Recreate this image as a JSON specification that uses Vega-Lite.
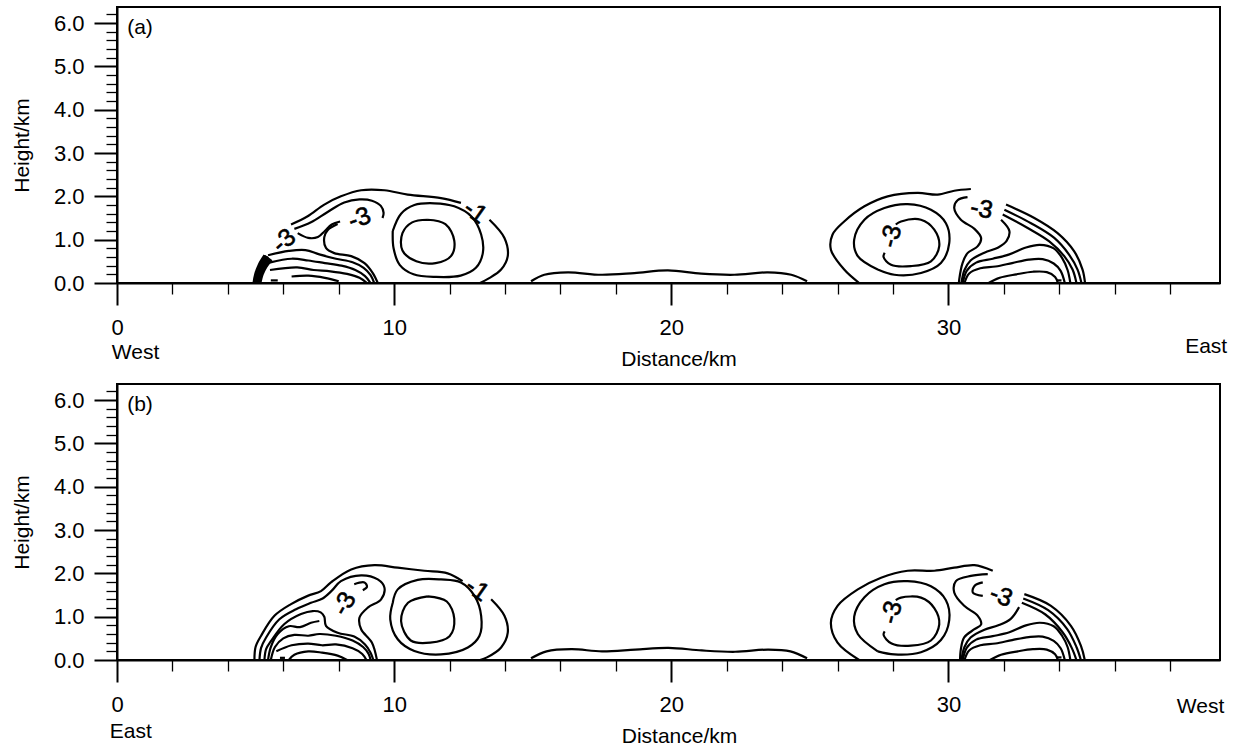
{
"$schema": "https://vega.github.io/schema/vega-lite/v6.json",
"background": "white",
"padding": {"left": 10, "top": 2, "right": 4, "bottom": 2},
"bounds": "flush",
"spacing": 101,
"config": {
  "font": "Liberation Sans",
  "view": {"stroke": "black", "strokeWidth": 2},
  "axis": {"domainColor": "black", "domainWidth": 2, "tickColor": "black", "labelColor": "black", "titleColor": "black", "titleFontWeight": "normal", "grid": false, "labelFont": "Liberation Sans", "titleFont": "Liberation Sans"}
},
"datasets": {
"contours": [
{"panel":"a","line":"a0","x":5.0,"y":0},{"panel":"a","line":"a0","x":5.07,"y":0.2},{"panel":"a","line":"a0","x":5.2,"y":0.42},{"panel":"a","line":"a0","x":5.4,"y":0.62},
{"panel":"a","line":"a1s1","x":4.96,"y":0},{"panel":"a","line":"a1s1","x":5.02,"y":0.2},{"panel":"a","line":"a1s1","x":5.15,"y":0.42},{"panel":"a","line":"a1s1","x":5.35,"y":0.63},
{"panel":"a","line":"a1s2","x":6.28,"y":1.35},{"panel":"a","line":"a1s2","x":6.88,"y":1.54},{"panel":"a","line":"a1s2","x":7.48,"y":1.81},{"panel":"a","line":"a1s2","x":8.08,"y":2.0},{"panel":"a","line":"a1s2","x":8.81,"y":2.14},{"panel":"a","line":"a1s2","x":9.65,"y":2.14},{"panel":"a","line":"a1s2","x":10.49,"y":2.04},{"panel":"a","line":"a1s2","x":11.69,"y":1.96},{"panel":"a","line":"a1s2","x":12.41,"y":1.85},
{"panel":"a","line":"a1s3","x":13.44,"y":1.46},{"panel":"a","line":"a1s3","x":13.98,"y":1.04},{"panel":"a","line":"a1s3","x":14.1,"y":0.62},{"panel":"a","line":"a1s3","x":13.86,"y":0.31},{"panel":"a","line":"a1s3","x":13.4,"y":0.1},{"panel":"a","line":"a1s3","x":13.1,"y":0},
{"panel":"a","line":"a2s1","x":5.05,"y":0},{"panel":"a","line":"a2s1","x":5.12,"y":0.2},{"panel":"a","line":"a2s1","x":5.25,"y":0.4},{"panel":"a","line":"a2s1","x":5.45,"y":0.6},
{"panel":"a","line":"a2s2","x":6.4,"y":1.25},{"panel":"a","line":"a2s2","x":7.0,"y":1.4},{"panel":"a","line":"a2s2","x":7.6,"y":1.64},{"panel":"a","line":"a2s2","x":8.2,"y":1.86},{"panel":"a","line":"a2s2","x":8.75,"y":1.93},{"panel":"a","line":"a2s2","x":9.2,"y":1.9},{"panel":"a","line":"a2s2","x":9.52,"y":1.78},{"panel":"a","line":"a2s2","x":9.62,"y":1.62},{"panel":"a","line":"a2s2","x":9.58,"y":1.5},
{"panel":"a","line":"a3s1","x":5.14,"y":0},{"panel":"a","line":"a3s1","x":5.22,"y":0.2},{"panel":"a","line":"a3s1","x":5.36,"y":0.38},{"panel":"a","line":"a3s1","x":5.55,"y":0.55},
{"panel":"a","line":"a3s2","x":6.52,"y":1.15},{"panel":"a","line":"a3s2","x":6.9,"y":1.04},{"panel":"a","line":"a3s2","x":7.25,"y":1.06},{"panel":"a","line":"a3s2","x":7.5,"y":1.2},{"panel":"a","line":"a3s2","x":7.75,"y":1.35},{"panel":"a","line":"a3s2","x":8.05,"y":1.42},
{"panel":"a","line":"a3s3","x":7.96,"y":1.36},{"panel":"a","line":"a3s3","x":7.6,"y":1.22},{"panel":"a","line":"a3s3","x":7.48,"y":1.06},{"panel":"a","line":"a3s3","x":7.54,"y":0.81},{"panel":"a","line":"a3s3","x":7.84,"y":0.69},{"panel":"a","line":"a3s3","x":8.45,"y":0.62},{"panel":"a","line":"a3s3","x":8.93,"y":0.46},{"panel":"a","line":"a3s3","x":9.23,"y":0.23},{"panel":"a","line":"a3s3","x":9.41,"y":0},
{"panel":"a","line":"a4","x":5.45,"y":0.64},{"panel":"a","line":"a4","x":6.2,"y":0.74},{"panel":"a","line":"a4","x":6.8,"y":0.76},{"panel":"a","line":"a4","x":7.3,"y":0.66},{"panel":"a","line":"a4","x":7.9,"y":0.56},{"panel":"a","line":"a4","x":8.5,"y":0.48},{"panel":"a","line":"a4","x":8.9,"y":0.35},{"panel":"a","line":"a4","x":9.15,"y":0.18},{"panel":"a","line":"a4","x":9.28,"y":0},
{"panel":"a","line":"a5","x":5.5,"y":0.47},{"panel":"a","line":"a5","x":6.3,"y":0.56},{"panel":"a","line":"a5","x":6.9,"y":0.52},{"panel":"a","line":"a5","x":7.5,"y":0.46},{"panel":"a","line":"a5","x":8.1,"y":0.4},{"panel":"a","line":"a5","x":8.6,"y":0.3},{"panel":"a","line":"a5","x":8.95,"y":0.16},{"panel":"a","line":"a5","x":9.15,"y":0},
{"panel":"a","line":"a6","x":5.52,"y":0.3},{"panel":"a","line":"a6","x":6.5,"y":0.36},{"panel":"a","line":"a6","x":7.1,"y":0.3},{"panel":"a","line":"a6","x":7.7,"y":0.27},{"panel":"a","line":"a6","x":8.3,"y":0.21},{"panel":"a","line":"a6","x":8.75,"y":0.12},{"panel":"a","line":"a6","x":9.02,"y":0},
{"panel":"a","line":"a7","x":6.3,"y":0.15},{"panel":"a","line":"a7","x":6.9,"y":0.17},{"panel":"a","line":"a7","x":7.5,"y":0.12},{"panel":"a","line":"a7","x":8.0,"y":0.04},
{"panel":"a","line":"a8","x":5.55,"y":0.06},{"panel":"a","line":"a8","x":5.8,"y":0.06},
{"panel":"a","line":"a9","x":9.95,"y":1.2},{"panel":"a","line":"a9","x":10.25,"y":1.6},{"panel":"a","line":"a9","x":10.73,"y":1.8},{"panel":"a","line":"a9","x":11.45,"y":1.84},{"panel":"a","line":"a9","x":12.17,"y":1.77},{"panel":"a","line":"a9","x":12.78,"y":1.54},{"panel":"a","line":"a9","x":13.14,"y":1.12},{"panel":"a","line":"a9","x":13.2,"y":0.69},{"panel":"a","line":"a9","x":12.95,"y":0.35},{"panel":"a","line":"a9","x":12.4,"y":0.17},{"panel":"a","line":"a9","x":11.5,"y":0.14},{"panel":"a","line":"a9","x":10.7,"y":0.2},{"panel":"a","line":"a9","x":10.2,"y":0.42},{"panel":"a","line":"a9","x":9.98,"y":0.8},{"panel":"a","line":"a9","x":9.95,"y":1.2},
{"panel":"a","line":"a10","x":11.2,"y":1.46},{"panel":"a","line":"a10","x":11.85,"y":1.36},{"panel":"a","line":"a10","x":12.17,"y":0.98},{"panel":"a","line":"a10","x":12.05,"y":0.62},{"panel":"a","line":"a10","x":11.5,"y":0.46},{"panel":"a","line":"a10","x":10.8,"y":0.5},{"panel":"a","line":"a10","x":10.3,"y":0.75},{"panel":"a","line":"a10","x":10.3,"y":1.15},{"panel":"a","line":"a10","x":10.65,"y":1.4},{"panel":"a","line":"a10","x":11.2,"y":1.46},
{"panel":"a","line":"a11","x":14.94,"y":0.04},{"panel":"a","line":"a11","x":15.42,"y":0.19},{"panel":"a","line":"a11","x":16.27,"y":0.245},{"panel":"a","line":"a11","x":17.47,"y":0.19},{"panel":"a","line":"a11","x":18.67,"y":0.23},{"panel":"a","line":"a11","x":19.88,"y":0.29},{"panel":"a","line":"a11","x":21.08,"y":0.215},{"panel":"a","line":"a11","x":22.28,"y":0.19},{"panel":"a","line":"a11","x":23.48,"y":0.245},{"panel":"a","line":"a11","x":24.33,"y":0.19},{"panel":"a","line":"a11","x":24.9,"y":0.04},
{"panel":"a","line":"a12","x":26.78,"y":0},{"panel":"a","line":"a12","x":26.24,"y":0.31},{"panel":"a","line":"a12","x":25.76,"y":0.77},{"panel":"a","line":"a12","x":25.82,"y":1.12},{"panel":"a","line":"a12","x":26.24,"y":1.42},{"panel":"a","line":"a12","x":26.97,"y":1.77},{"panel":"a","line":"a12","x":27.81,"y":2.0},{"panel":"a","line":"a12","x":28.89,"y":2.08},{"panel":"a","line":"a12","x":29.61,"y":2.04},{"panel":"a","line":"a12","x":30.21,"y":2.13},{"panel":"a","line":"a12","x":30.81,"y":2.17},
{"panel":"a","line":"a13","x":27.45,"y":0.31},{"panel":"a","line":"a13","x":26.73,"y":0.62},{"panel":"a","line":"a13","x":26.6,"y":1.0},{"panel":"a","line":"a13","x":26.97,"y":1.46},{"panel":"a","line":"a13","x":27.69,"y":1.73},{"panel":"a","line":"a13","x":28.53,"y":1.82},{"panel":"a","line":"a13","x":29.37,"y":1.69},{"panel":"a","line":"a13","x":29.91,"y":1.38},{"panel":"a","line":"a13","x":30.03,"y":0.92},{"panel":"a","line":"a13","x":29.73,"y":0.46},{"panel":"a","line":"a13","x":29.01,"y":0.23},{"panel":"a","line":"a13","x":28.05,"y":0.19},{"panel":"a","line":"a13","x":27.45,"y":0.31},
{"panel":"a","line":"a14","x":27.7,"y":0.7},{"panel":"a","line":"a14","x":27.66,"y":0.6},{"panel":"a","line":"a14","x":27.93,"y":0.42},{"panel":"a","line":"a14","x":28.65,"y":0.39},{"panel":"a","line":"a14","x":29.37,"y":0.5},{"panel":"a","line":"a14","x":29.67,"y":0.85},{"panel":"a","line":"a14","x":29.49,"y":1.23},{"panel":"a","line":"a14","x":29.01,"y":1.46},{"panel":"a","line":"a14","x":28.29,"y":1.42},{"panel":"a","line":"a14","x":28.1,"y":1.35},
{"panel":"a","line":"a15","x":30.69,"y":1.98},{"panel":"a","line":"a15","x":30.33,"y":1.91},{"panel":"a","line":"a15","x":30.21,"y":1.73},{"panel":"a","line":"a15","x":30.45,"y":1.46},{"panel":"a","line":"a15","x":30.94,"y":1.25},{"panel":"a","line":"a15","x":31.18,"y":1.04},{"panel":"a","line":"a15","x":31.06,"y":0.85},{"panel":"a","line":"a15","x":30.69,"y":0.69},{"panel":"a","line":"a15","x":30.51,"y":0.46},{"panel":"a","line":"a15","x":30.39,"y":0.08},{"panel":"a","line":"a15","x":30.38,"y":0},
{"panel":"a","line":"a17","x":32.08,"y":1.81},{"panel":"a","line":"a17","x":33.1,"y":1.5},{"panel":"a","line":"a17","x":33.94,"y":1.15},{"panel":"a","line":"a17","x":34.54,"y":0.73},{"panel":"a","line":"a17","x":34.84,"y":0.31},{"panel":"a","line":"a17","x":34.93,"y":0},
{"panel":"a","line":"a18","x":32.02,"y":1.69},{"panel":"a","line":"a18","x":32.98,"y":1.38},{"panel":"a","line":"a18","x":33.82,"y":1.04},{"panel":"a","line":"a18","x":34.36,"y":0.65},{"panel":"a","line":"a18","x":34.66,"y":0.31},{"panel":"a","line":"a18","x":34.8,"y":0},
{"panel":"a","line":"a19","x":31.96,"y":1.58},{"panel":"a","line":"a19","x":32.86,"y":1.27},{"panel":"a","line":"a19","x":33.64,"y":0.96},{"panel":"a","line":"a19","x":34.18,"y":0.62},{"panel":"a","line":"a19","x":34.48,"y":0.31},{"panel":"a","line":"a19","x":34.62,"y":0},
{"panel":"a","line":"a20","x":30.47,"y":0},{"panel":"a","line":"a20","x":30.58,"y":0.3},{"panel":"a","line":"a20","x":30.8,"y":0.52},{"panel":"a","line":"a20","x":31.3,"y":0.7},{"panel":"a","line":"a20","x":31.8,"y":0.82},{"panel":"a","line":"a20","x":32.1,"y":0.97},{"panel":"a","line":"a20","x":32.2,"y":1.2},{"panel":"a","line":"a20","x":31.9,"y":1.46},
{"panel":"a","line":"a21","x":30.52,"y":0},{"panel":"a","line":"a21","x":30.66,"y":0.28},{"panel":"a","line":"a21","x":31.0,"y":0.47},{"panel":"a","line":"a21","x":31.6,"y":0.56},{"panel":"a","line":"a21","x":32.2,"y":0.66},{"panel":"a","line":"a21","x":32.8,"y":0.82},{"panel":"a","line":"a21","x":33.3,"y":0.88},{"panel":"a","line":"a21","x":33.8,"y":0.8},{"panel":"a","line":"a21","x":34.1,"y":0.58},{"panel":"a","line":"a21","x":34.3,"y":0.3},{"panel":"a","line":"a21","x":34.4,"y":0},
{"panel":"a","line":"a22","x":30.58,"y":0},{"panel":"a","line":"a22","x":30.75,"y":0.22},{"panel":"a","line":"a22","x":31.15,"y":0.34},{"panel":"a","line":"a22","x":31.7,"y":0.38},{"panel":"a","line":"a22","x":32.3,"y":0.46},{"panel":"a","line":"a22","x":32.9,"y":0.54},{"panel":"a","line":"a22","x":33.4,"y":0.55},{"panel":"a","line":"a22","x":33.8,"y":0.45},{"panel":"a","line":"a22","x":34.05,"y":0.28},{"panel":"a","line":"a22","x":34.2,"y":0},
{"panel":"a","line":"a23","x":31.45,"y":0},{"panel":"a","line":"a23","x":31.85,"y":0.12},{"panel":"a","line":"a23","x":32.45,"y":0.2},{"panel":"a","line":"a23","x":33.05,"y":0.26},{"panel":"a","line":"a23","x":33.55,"y":0.25},{"panel":"a","line":"a23","x":33.85,"y":0.14},{"panel":"a","line":"a23","x":33.95,"y":0},
{"panel":"a","line":"a24","x":33.92,"y":0.06},{"panel":"a","line":"a24","x":34.08,"y":0.06},

{"panel":"b","line":"b1s1","x":4.96,"y":0},{"panel":"b","line":"b1s1","x":5.0,"y":0.3},{"panel":"b","line":"b1s1","x":5.2,"y":0.56},{"panel":"b","line":"b1s1","x":5.68,"y":1.02},{"panel":"b","line":"b1s1","x":6.28,"y":1.29},{"panel":"b","line":"b1s1","x":6.88,"y":1.48},{"panel":"b","line":"b1s1","x":7.36,"y":1.59},{"panel":"b","line":"b1s1","x":7.72,"y":1.79},{"panel":"b","line":"b1s1","x":8.45,"y":2.09},{"panel":"b","line":"b1s1","x":9.29,"y":2.19},{"panel":"b","line":"b1s1","x":10.13,"y":2.13},{"panel":"b","line":"b1s1","x":11.09,"y":2.06},{"panel":"b","line":"b1s1","x":11.93,"y":2.0},{"panel":"b","line":"b1s1","x":12.47,"y":1.82},
{"panel":"b","line":"b1s2","x":13.5,"y":1.4},{"panel":"b","line":"b1s2","x":13.98,"y":1.02},{"panel":"b","line":"b1s2","x":14.1,"y":0.63},{"panel":"b","line":"b1s2","x":13.86,"y":0.29},{"panel":"b","line":"b1s2","x":13.35,"y":0.06},{"panel":"b","line":"b1s2","x":13.1,"y":0},
{"panel":"b","line":"b2","x":5.14,"y":0},{"panel":"b","line":"b2","x":5.2,"y":0.28},{"panel":"b","line":"b2","x":5.38,"y":0.52},{"panel":"b","line":"b2","x":5.86,"y":0.94},{"panel":"b","line":"b2","x":6.46,"y":1.17},{"panel":"b","line":"b2","x":7.0,"y":1.32},{"panel":"b","line":"b2","x":7.42,"y":1.42},{"panel":"b","line":"b2","x":7.75,"y":1.6},{"panel":"b","line":"b2","x":8.08,"y":1.82},{"panel":"b","line":"b2","x":8.81,"y":1.955},{"panel":"b","line":"b2","x":9.41,"y":1.86},{"panel":"b","line":"b2","x":9.65,"y":1.67},{"panel":"b","line":"b2","x":9.53,"y":1.4},{"panel":"b","line":"b2","x":9.05,"y":1.21},{"panel":"b","line":"b2","x":8.75,"y":0.98},{"panel":"b","line":"b2","x":8.81,"y":0.71},{"panel":"b","line":"b2","x":9.2,"y":0.4},{"panel":"b","line":"b2","x":9.38,"y":0},
{"panel":"b","line":"b3","x":5.32,"y":0},{"panel":"b","line":"b3","x":5.38,"y":0.25},{"panel":"b","line":"b3","x":5.56,"y":0.44},{"panel":"b","line":"b3","x":6.04,"y":0.83},{"panel":"b","line":"b3","x":6.64,"y":1.06},{"panel":"b","line":"b3","x":7.06,"y":1.13},{"panel":"b","line":"b3","x":7.35,"y":1.1},{"panel":"b","line":"b3","x":7.48,"y":1.0},{"panel":"b","line":"b3","x":7.54,"y":0.79},{"panel":"b","line":"b3","x":7.96,"y":0.63},{"panel":"b","line":"b3","x":8.56,"y":0.54},{"panel":"b","line":"b3","x":8.95,"y":0.36},{"panel":"b","line":"b3","x":9.15,"y":0.17},{"panel":"b","line":"b3","x":9.25,"y":0},
{"panel":"b","line":"bh","x":8.56,"y":1.75},{"panel":"b","line":"bh","x":8.93,"y":1.79},{"panel":"b","line":"bh","x":9.02,"y":1.69},{"panel":"b","line":"bh","x":8.87,"y":1.61},
{"panel":"b","line":"b4","x":5.45,"y":0},{"panel":"b","line":"b4","x":5.55,"y":0.3},{"panel":"b","line":"b4","x":5.8,"y":0.6},{"panel":"b","line":"b4","x":6.2,"y":0.78},{"panel":"b","line":"b4","x":6.6,"y":0.76},{"panel":"b","line":"b4","x":7.0,"y":0.86},{"panel":"b","line":"b4","x":7.3,"y":0.9},
{"panel":"b","line":"b5","x":5.55,"y":0},{"panel":"b","line":"b5","x":5.7,"y":0.3},{"panel":"b","line":"b5","x":6.0,"y":0.5},{"panel":"b","line":"b5","x":6.4,"y":0.58},{"panel":"b","line":"b5","x":6.9,"y":0.56},{"panel":"b","line":"b5","x":7.3,"y":0.6},{"panel":"b","line":"b5","x":7.9,"y":0.56},{"panel":"b","line":"b5","x":8.5,"y":0.45},{"panel":"b","line":"b5","x":8.88,"y":0.3},{"panel":"b","line":"b5","x":9.08,"y":0.14},{"panel":"b","line":"b5","x":9.15,"y":0},
{"panel":"b","line":"b6","x":5.75,"y":0.2},{"panel":"b","line":"b6","x":6.3,"y":0.34},{"panel":"b","line":"b6","x":6.9,"y":0.38},{"panel":"b","line":"b6","x":7.4,"y":0.34},{"panel":"b","line":"b6","x":7.9,"y":0.36},{"panel":"b","line":"b6","x":8.5,"y":0.27},{"panel":"b","line":"b6","x":8.85,"y":0.14},{"panel":"b","line":"b6","x":9.0,"y":0},
{"panel":"b","line":"b7","x":6.2,"y":0},{"panel":"b","line":"b7","x":6.4,"y":0.12},{"panel":"b","line":"b7","x":6.9,"y":0.2},{"panel":"b","line":"b7","x":7.4,"y":0.17},{"panel":"b","line":"b7","x":7.96,"y":0.1},{"panel":"b","line":"b7","x":8.3,"y":0},
{"panel":"b","line":"b8","x":5.88,"y":0.05},{"panel":"b","line":"b8","x":6.06,"y":0.05},
{"panel":"b","line":"b9","x":9.95,"y":1.32},{"panel":"b","line":"b9","x":10.13,"y":1.63},{"panel":"b","line":"b9","x":10.85,"y":1.85},{"panel":"b","line":"b9","x":11.69,"y":1.86},{"panel":"b","line":"b9","x":12.41,"y":1.79},{"panel":"b","line":"b9","x":12.9,"y":1.48},{"panel":"b","line":"b9","x":13.14,"y":1.02},{"panel":"b","line":"b9","x":13.08,"y":0.56},{"panel":"b","line":"b9","x":12.66,"y":0.29},{"panel":"b","line":"b9","x":11.69,"y":0.13},{"panel":"b","line":"b9","x":10.73,"y":0.21},{"panel":"b","line":"b9","x":10.13,"y":0.48},{"panel":"b","line":"b9","x":9.86,"y":0.94},{"panel":"b","line":"b9","x":9.95,"y":1.32},
{"panel":"b","line":"b10","x":11.21,"y":1.47},{"panel":"b","line":"b10","x":11.9,"y":1.35},{"panel":"b","line":"b10","x":12.17,"y":0.95},{"panel":"b","line":"b10","x":12.0,"y":0.55},{"panel":"b","line":"b10","x":11.3,"y":0.4},{"panel":"b","line":"b10","x":10.6,"y":0.45},{"panel":"b","line":"b10","x":10.25,"y":0.9},{"panel":"b","line":"b10","x":10.5,"y":1.32},{"panel":"b","line":"b10","x":11.21,"y":1.47},
{"panel":"b","line":"b11","x":14.94,"y":0.04},{"panel":"b","line":"b11","x":15.5,"y":0.2},{"panel":"b","line":"b11","x":16.4,"y":0.25},{"panel":"b","line":"b11","x":17.5,"y":0.2},{"panel":"b","line":"b11","x":18.7,"y":0.24},{"panel":"b","line":"b11","x":19.9,"y":0.28},{"panel":"b","line":"b11","x":21.1,"y":0.22},{"panel":"b","line":"b11","x":22.3,"y":0.19},{"panel":"b","line":"b11","x":23.5,"y":0.24},{"panel":"b","line":"b11","x":24.3,"y":0.2},{"panel":"b","line":"b11","x":24.9,"y":0.04},
{"panel":"b","line":"b12","x":26.78,"y":0},{"panel":"b","line":"b12","x":26.0,"y":0.4},{"panel":"b","line":"b12","x":25.76,"y":0.86},{"panel":"b","line":"b12","x":26.0,"y":1.25},{"panel":"b","line":"b12","x":26.73,"y":1.63},{"panel":"b","line":"b12","x":27.57,"y":1.9},{"panel":"b","line":"b12","x":28.53,"y":2.06},{"panel":"b","line":"b12","x":29.49,"y":2.06},{"panel":"b","line":"b12","x":30.21,"y":2.13},{"panel":"b","line":"b12","x":30.94,"y":2.19},{"panel":"b","line":"b12","x":31.6,"y":2.06},
{"panel":"b","line":"b13","x":27.45,"y":0.2},{"panel":"b","line":"b13","x":26.73,"y":0.6},{"panel":"b","line":"b13","x":26.6,"y":1.0},{"panel":"b","line":"b13","x":26.97,"y":1.45},{"panel":"b","line":"b13","x":27.69,"y":1.75},{"panel":"b","line":"b13","x":28.53,"y":1.82},{"panel":"b","line":"b13","x":29.37,"y":1.7},{"panel":"b","line":"b13","x":29.91,"y":1.38},{"panel":"b","line":"b13","x":30.03,"y":0.92},{"panel":"b","line":"b13","x":29.73,"y":0.46},{"panel":"b","line":"b13","x":29.01,"y":0.18},{"panel":"b","line":"b13","x":28.05,"y":0.13},{"panel":"b","line":"b13","x":27.45,"y":0.2},
{"panel":"b","line":"b14","x":27.7,"y":0.66},{"panel":"b","line":"b14","x":27.66,"y":0.58},{"panel":"b","line":"b14","x":27.95,"y":0.38},{"panel":"b","line":"b14","x":28.65,"y":0.33},{"panel":"b","line":"b14","x":29.37,"y":0.45},{"panel":"b","line":"b14","x":29.67,"y":0.82},{"panel":"b","line":"b14","x":29.49,"y":1.2},{"panel":"b","line":"b14","x":29.01,"y":1.44},{"panel":"b","line":"b14","x":28.29,"y":1.44},{"panel":"b","line":"b14","x":28.1,"y":1.38},
{"panel":"b","line":"b15","x":31.42,"y":1.98},{"panel":"b","line":"b15","x":30.81,"y":1.94},{"panel":"b","line":"b15","x":30.27,"y":1.82},{"panel":"b","line":"b15","x":30.21,"y":1.56},{"panel":"b","line":"b15","x":30.57,"y":1.25},{"panel":"b","line":"b15","x":31.06,"y":1.02},{"panel":"b","line":"b15","x":31.18,"y":0.82},{"panel":"b","line":"b15","x":30.94,"y":0.71},{"panel":"b","line":"b15","x":30.57,"y":0.52},{"panel":"b","line":"b15","x":30.45,"y":0.25},{"panel":"b","line":"b15","x":30.42,"y":0},
{"panel":"b","line":"b16","x":31.24,"y":1.79},{"panel":"b","line":"b16","x":30.94,"y":1.71},{"panel":"b","line":"b16","x":30.88,"y":1.56},{"panel":"b","line":"b16","x":31.24,"y":1.48},
{"panel":"b","line":"b17","x":32.74,"y":1.52},{"panel":"b","line":"b17","x":33.7,"y":1.25},{"panel":"b","line":"b17","x":34.42,"y":0.79},{"panel":"b","line":"b17","x":34.78,"y":0.33},{"panel":"b","line":"b17","x":34.92,"y":0},
{"panel":"b","line":"b18","x":32.7,"y":1.42},{"panel":"b","line":"b18","x":33.6,"y":1.15},{"panel":"b","line":"b18","x":34.28,"y":0.72},{"panel":"b","line":"b18","x":34.62,"y":0.3},{"panel":"b","line":"b18","x":34.78,"y":0},
{"panel":"b","line":"b19","x":32.65,"y":1.32},{"panel":"b","line":"b19","x":33.5,"y":1.05},{"panel":"b","line":"b19","x":34.12,"y":0.64},{"panel":"b","line":"b19","x":34.45,"y":0.28},{"panel":"b","line":"b19","x":34.62,"y":0},
{"panel":"b","line":"b20","x":30.47,"y":0},{"panel":"b","line":"b20","x":30.58,"y":0.3},{"panel":"b","line":"b20","x":30.8,"y":0.52},{"panel":"b","line":"b20","x":31.3,"y":0.7},{"panel":"b","line":"b20","x":31.8,"y":0.8},{"panel":"b","line":"b20","x":32.25,"y":0.95},{"panel":"b","line":"b20","x":32.55,"y":1.22},
{"panel":"b","line":"b21","x":30.52,"y":0},{"panel":"b","line":"b21","x":30.66,"y":0.28},{"panel":"b","line":"b21","x":31.0,"y":0.47},{"panel":"b","line":"b21","x":31.6,"y":0.55},{"panel":"b","line":"b21","x":32.2,"y":0.64},{"panel":"b","line":"b21","x":32.8,"y":0.8},{"panel":"b","line":"b21","x":33.3,"y":0.86},{"panel":"b","line":"b21","x":33.8,"y":0.78},{"panel":"b","line":"b21","x":34.1,"y":0.56},{"panel":"b","line":"b21","x":34.3,"y":0.3},{"panel":"b","line":"b21","x":34.4,"y":0},
{"panel":"b","line":"b22","x":30.58,"y":0},{"panel":"b","line":"b22","x":30.75,"y":0.22},{"panel":"b","line":"b22","x":31.15,"y":0.34},{"panel":"b","line":"b22","x":31.7,"y":0.38},{"panel":"b","line":"b22","x":32.3,"y":0.46},{"panel":"b","line":"b22","x":32.9,"y":0.53},{"panel":"b","line":"b22","x":33.4,"y":0.54},{"panel":"b","line":"b22","x":33.8,"y":0.44},{"panel":"b","line":"b22","x":34.05,"y":0.27},{"panel":"b","line":"b22","x":34.2,"y":0},
{"panel":"b","line":"b23","x":31.5,"y":0},{"panel":"b","line":"b23","x":31.9,"y":0.12},{"panel":"b","line":"b23","x":32.5,"y":0.2},{"panel":"b","line":"b23","x":33.05,"y":0.25},{"panel":"b","line":"b23","x":33.55,"y":0.24},{"panel":"b","line":"b23","x":33.85,"y":0.13},{"panel":"b","line":"b23","x":33.95,"y":0},
{"panel":"b","line":"b24","x":33.92,"y":0.06},{"panel":"b","line":"b24","x":34.08,"y":0.06}
],
"labels": [
{"panel":"a","text":"-3","x":6.02,"y":0.98,"tilt":"rising"},
{"panel":"a","text":"-3","x":8.75,"y":1.5,"tilt":"slight"},
{"panel":"a","text":"-1","x":12.93,"y":1.65,"tilt":"falling"},
{"panel":"a","text":"-3","x":27.93,"y":1.08,"tilt":"vertical"},
{"panel":"a","text":"-3","x":31.2,"y":1.71,"tilt":"level"},
{"panel":"b","text":"-3","x":8.2,"y":1.3,"tilt":"steep"},
{"panel":"b","text":"-1","x":13.0,"y":1.63,"tilt":"falling"},
{"panel":"b","text":"-3","x":27.95,"y":1.1,"tilt":"vertical"},
{"panel":"b","text":"-3","x":31.9,"y":1.48,"tilt":"tilted"}
],
"notes": [
{"panel":"a","text":"(a)","x":0.83,"y":5.89},
{"panel":"a","text":"West","x":0.67,"y":-1.615},
{"panel":"a","text":"East","x":39.3,"y":-1.48},
{"panel":"b","text":"(b)","x":0.83,"y":5.89},
{"panel":"b","text":"East","x":0.5,"y":-1.66},
{"panel":"b","text":"West","x":39.1,"y":-1.09}
]
},
"vconcat": [
{
 "width": 1103, "height": 276,
 "encoding": {
  "x": {"field": "x", "type": "quantitative", "scale": {"domain": [0, 39.8], "nice": false, "zero": false},
   "axis": {"title": "Distance/km", "titleFontSize": 21, "titlePadding": 10, "titleX": 561.5,
    "values": [0,2,4,6,8,10,12,14,16,18,20,22,24,26,28,30,32,34,36,38],
    "labelExpr": "datum.value % 10 === 0 ? datum.label : ''", "format": "d",
    "labelFontSize": 22, "labelPadding": 12, "labelFlush": false, "labelOverlap": false,
    "tickSize": {"condition": {"test": "datum.value % 10 === 0", "value": 22}, "value": 11},
    "tickWidth": {"condition": {"test": "datum.value % 10 === 0", "value": 2}, "value": 1.3}}},
  "y": {"field": "y", "type": "quantitative", "scale": {"domain": [0, 6.37], "nice": false, "zero": false},
   "axis": {"title": "Height/km", "titleFontSize": 21, "titlePadding": 21,
    "values": [0,0.2,0.4,0.6,0.8,1,1.2,1.4,1.6,1.8,2,2.2,2.4,2.6,2.8,3,3.2,3.4,3.6,3.8,4,4.2,4.4,4.6,4.8,5,5.2,5.4,5.6,5.8,6,6.2],
    "labelExpr": "abs(datum.value - round(datum.value)) < 0.001 ? format(datum.value, '.1f') : ''",
    "labelFontSize": 22, "labelPadding": 10, "labelFlush": false, "labelOverlap": false,
    "tickSize": {"condition": {"test": "abs(datum.value - round(datum.value)) < 0.001", "value": 23}, "value": 11},
    "tickWidth": {"condition": {"test": "abs(datum.value - round(datum.value)) < 0.001", "value": 2}, "value": 1.3}}}
 },
 "layer": [
  {"data": {"name": "contours"}, "transform": [{"filter": "datum.panel === 'a'"}],
   "mark": {"type": "line", "color": "black", "strokeWidth": 2.2, "strokeJoin": "round", "interpolate": "catmull-rom", "clip": true},
   "encoding": {"detail": {"field": "line"}, "order": {"value": null}}},
  {"data": {"name": "contours"}, "transform": [{"filter": "datum.panel === 'a' && indexof(['a0','a1s1','a2s1','a3s1'], datum.line) >= 0"}],
   "mark": {"type": "line", "color": "black", "strokeWidth": 4, "strokeJoin": "round", "interpolate": "catmull-rom", "clip": true},
   "encoding": {"detail": {"field": "line"}, "order": {"value": null}}},
  {"data": {"name": "labels"}, "transform": [{"filter": "datum.panel === 'a' && datum.tilt === 'rising'"}],
   "mark": {"type": "text", "font": "Liberation Sans", "fontSize": 25, "color": "black", "stroke": "black", "strokeWidth": 0.6, "align": "center", "baseline": "middle", "angle": 320},
   "encoding": {"text": {"field": "text"}}},
  {"data": {"name": "labels"}, "transform": [{"filter": "datum.panel === 'a' && datum.tilt === 'slight'"}],
   "mark": {"type": "text", "font": "Liberation Sans", "fontSize": 25, "color": "black", "stroke": "black", "strokeWidth": 0.6, "align": "center", "baseline": "middle", "angle": 340},
   "encoding": {"text": {"field": "text"}}},
  {"data": {"name": "labels"}, "transform": [{"filter": "datum.panel === 'a' && datum.tilt === 'falling'"}],
   "mark": {"type": "text", "font": "Liberation Sans", "fontSize": 25, "color": "black", "stroke": "black", "strokeWidth": 0.6, "align": "center", "baseline": "middle", "angle": 35},
   "encoding": {"text": {"field": "text"}}},
  {"data": {"name": "labels"}, "transform": [{"filter": "datum.panel === 'a' && datum.tilt === 'vertical'"}],
   "mark": {"type": "text", "font": "Liberation Sans", "fontSize": 25, "color": "black", "stroke": "black", "strokeWidth": 0.6, "align": "center", "baseline": "middle", "angle": 285},
   "encoding": {"text": {"field": "text"}}},
  {"data": {"name": "labels"}, "transform": [{"filter": "datum.panel === 'a' && datum.tilt === 'level'"}],
   "mark": {"type": "text", "font": "Liberation Sans", "fontSize": 25, "color": "black", "stroke": "black", "strokeWidth": 0.6, "align": "center", "baseline": "middle", "angle": 10},
   "encoding": {"text": {"field": "text"}}},
  {"data": {"name": "notes"}, "transform": [{"filter": "datum.panel === 'a'"}],
   "mark": {"type": "text", "font": "Liberation Sans", "fontSize": 21, "color": "black", "align": "center", "baseline": "middle"},
   "encoding": {"text": {"field": "text"}}}
 ]
},
{
 "width": 1103, "height": 276,
 "encoding": {
  "x": {"field": "x", "type": "quantitative", "scale": {"domain": [0, 39.8], "nice": false, "zero": false},
   "axis": {"title": "Distance/km", "titleFontSize": 21, "titlePadding": 10, "titleX": 562,
    "values": [0,2,4,6,8,10,12,14,16,18,20,22,24,26,28,30,32,34,36,38],
    "labelExpr": "datum.value % 10 === 0 ? datum.label : ''", "format": "d",
    "labelFontSize": 22, "labelPadding": 12, "labelFlush": false, "labelOverlap": false,
    "tickSize": {"condition": {"test": "datum.value % 10 === 0", "value": 22}, "value": 11},
    "tickWidth": {"condition": {"test": "datum.value % 10 === 0", "value": 2}, "value": 1.3}}},
  "y": {"field": "y", "type": "quantitative", "scale": {"domain": [0, 6.37], "nice": false, "zero": false},
   "axis": {"title": "Height/km", "titleFontSize": 21, "titlePadding": 21,
    "values": [0,0.2,0.4,0.6,0.8,1,1.2,1.4,1.6,1.8,2,2.2,2.4,2.6,2.8,3,3.2,3.4,3.6,3.8,4,4.2,4.4,4.6,4.8,5,5.2,5.4,5.6,5.8,6,6.2],
    "labelExpr": "abs(datum.value - round(datum.value)) < 0.001 ? format(datum.value, '.1f') : ''",
    "labelFontSize": 22, "labelPadding": 10, "labelFlush": false, "labelOverlap": false,
    "tickSize": {"condition": {"test": "abs(datum.value - round(datum.value)) < 0.001", "value": 23}, "value": 11},
    "tickWidth": {"condition": {"test": "abs(datum.value - round(datum.value)) < 0.001", "value": 2}, "value": 1.3}}}
 },
 "layer": [
  {"data": {"name": "contours"}, "transform": [{"filter": "datum.panel === 'b'"}],
   "mark": {"type": "line", "color": "black", "strokeWidth": 2.2, "strokeJoin": "round", "interpolate": "catmull-rom", "clip": true},
   "encoding": {"detail": {"field": "line"}, "order": {"value": null}}},
  {"data": {"name": "labels"}, "transform": [{"filter": "datum.panel === 'b' && datum.tilt === 'steep'"}],
   "mark": {"type": "text", "font": "Liberation Sans", "fontSize": 25, "color": "black", "stroke": "black", "strokeWidth": 0.6, "align": "center", "baseline": "middle", "angle": 300},
   "encoding": {"text": {"field": "text"}}},
  {"data": {"name": "labels"}, "transform": [{"filter": "datum.panel === 'b' && datum.tilt === 'falling'"}],
   "mark": {"type": "text", "font": "Liberation Sans", "fontSize": 25, "color": "black", "stroke": "black", "strokeWidth": 0.6, "align": "center", "baseline": "middle", "angle": 35},
   "encoding": {"text": {"field": "text"}}},
  {"data": {"name": "labels"}, "transform": [{"filter": "datum.panel === 'b' && datum.tilt === 'vertical'"}],
   "mark": {"type": "text", "font": "Liberation Sans", "fontSize": 25, "color": "black", "stroke": "black", "strokeWidth": 0.6, "align": "center", "baseline": "middle", "angle": 285},
   "encoding": {"text": {"field": "text"}}},
  {"data": {"name": "labels"}, "transform": [{"filter": "datum.panel === 'b' && datum.tilt === 'tilted'"}],
   "mark": {"type": "text", "font": "Liberation Sans", "fontSize": 25, "color": "black", "stroke": "black", "strokeWidth": 0.6, "align": "center", "baseline": "middle", "angle": 20},
   "encoding": {"text": {"field": "text"}}},
  {"data": {"name": "notes"}, "transform": [{"filter": "datum.panel === 'b'"}],
   "mark": {"type": "text", "font": "Liberation Sans", "fontSize": 21, "color": "black", "align": "center", "baseline": "middle"},
   "encoding": {"text": {"field": "text"}}}
 ]
}
]
}
